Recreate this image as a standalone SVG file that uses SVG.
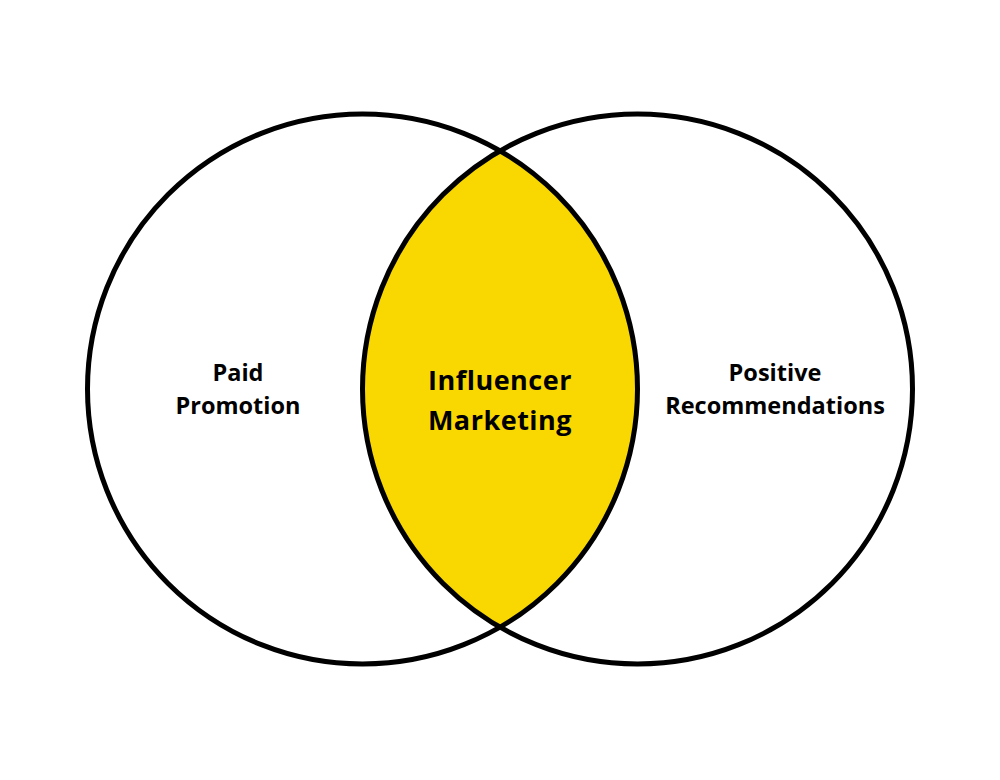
<svg xmlns="http://www.w3.org/2000/svg" width="1000" height="780" viewBox="0 0 1000 780">
<style>
.ring{fill:none;stroke:#000;stroke-width:5}
.lbl{font-family:"Open Sans","Liberation Sans",sans-serif;font-weight:700;fill:#000;text-anchor:middle}
.sm{font-size:23.5px}
.lg{font-size:27px;letter-spacing:0.5px}
</style>
<rect width="1000" height="780" fill="#fff"/>
<g id="intersection">
<path d="M500,151.3 A275,275 0 0 1 500,626.7 A275,275 0 0 1 500,151.3 Z" fill="#F8D800"/>
</g>
<g id="left-circle">
<circle class="ring" cx="362.5" cy="389" r="275"/>
<text class="lbl sm" x="238" y="381">Paid</text>
<text class="lbl sm" x="238" y="414">Promotion</text>
</g>
<g id="right-circle">
<circle class="ring" cx="637.5" cy="389" r="275"/>
<text class="lbl sm" x="775" y="381">Positive</text>
<text class="lbl sm" x="775" y="414">Recommendations</text>
</g>
<g id="center-label">
<text class="lbl lg" x="500" y="390">Influencer</text>
<text class="lbl lg" x="500" y="430">Marketing</text>
</g>
<g id="connectors"></g>
</svg>
